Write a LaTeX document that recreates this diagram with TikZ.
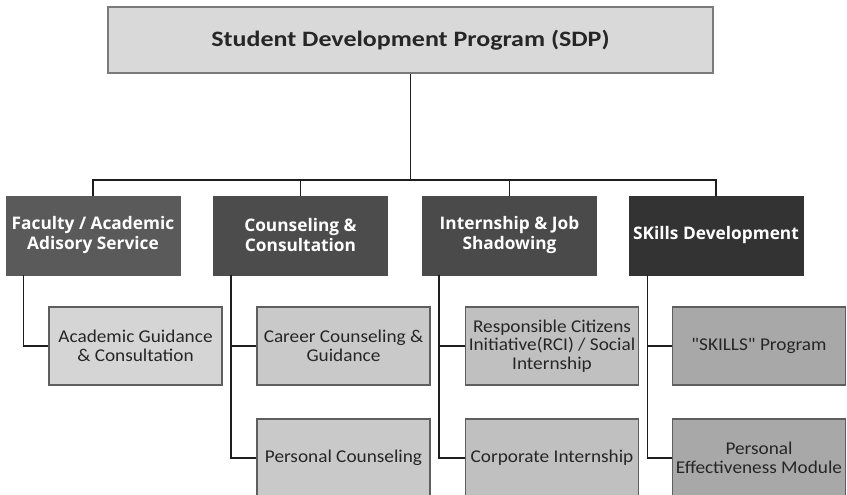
\documentclass[tikz,border=0pt]{standalone}
\usepackage{fontspec}
\setmainfont{Carlito}
\newfontfamily\titlefont[FakeStretch=1.18]{Carlito}
\newfontfamily\subfont[FakeStretch=1.07]{Carlito}
\newfontfamily\headfont{Open Sans}
\definecolor{topfill}{HTML}{D9D9D9}
\definecolor{topdraw}{HTML}{7A7A7A}
\definecolor{lvtwoa}{HTML}{5A5A5A}
\definecolor{lvtwob}{HTML}{4C4C4C}
\definecolor{lvtwoc}{HTML}{4A4A4A}
\definecolor{lvtwod}{HTML}{333333}
\definecolor{lvthreea}{HTML}{D5D5D5}
\definecolor{lvthreeb}{HTML}{C9C9C9}
\definecolor{lvthreec}{HTML}{C0C0C0}
\definecolor{lvthreed}{HTML}{A8A8A8}
\definecolor{linecol}{HTML}{1E1E1E}
\definecolor{boxdraw}{HTML}{5E5E5E}
\tikzset{
  topbox/.style={draw=topdraw, line width=1.2pt, fill=topfill, minimum width=605pt, minimum height=66pt, inner sep=0pt,
    font=\titlefont\fontsize{22}{26}\selectfont\bfseries, text=black!85},
  headbox/.style={draw=#1, line width=0.8pt, fill=#1, minimum width=174pt, minimum height=79pt, inner sep=0pt,
    text=white, align=center, font=\headfont\fontsize{17.3}{20}\selectfont\bfseries},
  subbox/.style={draw=boxdraw, line width=1.2pt, fill=#1, minimum width=173pt, minimum height=78pt, inner sep=0pt,
    text=black!85, align=center, font=\subfont\fontsize{18}{18.5}\selectfont},
  link/.style={draw=linecol, line width=1.5pt}
}
\begin{document}
\begin{tikzpicture}[x=1pt,y=-1pt]
\useasboundingbox (0,0) rectangle (847,495);
\begin{scope}
\clip (0,0) rectangle (847,495);
\node[topbox] (top) at (410.5,40) {Student Development Program (SDP)};

\node[headbox=lvtwoa] (f1) at (93,235.5) {Faculty / Academic\\Adisory Service};
\node[headbox=lvtwob] (f2) at (300.5,235.5) {Counseling \&\\Consultation};
\node[headbox=lvtwoc] (f3) at (509.5,235.5) {Internship \& Job\\Shadowing};
\node[headbox=lvtwod] (f4) at (716,235.5) {SKills Development};

\node[subbox=lvthreea] (a1) at (135.5,346) {Academic Guidance\\\& Consultation};
\node[subbox=lvthreeb] (b1) at (343.5,346) {Career Counseling \&\\Guidance};
\node[subbox=lvthreeb] (b2) at (343.5,458) {Personal Counseling};
\node[subbox=lvthreec] (c1) at (552,346) {Responsible Citizens\\Initiative(RCI) / Social\\Internship};
\node[subbox=lvthreec] (c2) at (552,458) {Corporate Internship};
\node[subbox=lvthreed] (d1) at (759,346) {\char34SKILLS\char34{} Program};
\node[subbox=lvthreed] (d2) at (759,458) {Personal\\Effectiveness Module};

\coordinate (bus) at (0,180);
\draw[link] (top.south) -- (top.south |- bus);
\draw[link] (f1.north) -- (f1.north |- bus) -| (f4.north);
\draw[link] (f2.north) -- (f2.north |- bus);
\draw[link] (f3.north) -- (f3.north |- bus);

\draw[link] ([xshift=18pt]f1.south west) |- (a1.west);
\draw[link] ([xshift=18pt]f2.south west) |- (b1.west);
\draw[link] ([xshift=18pt]f2.south west) |- (b2.west);
\draw[link] ([xshift=17pt]f3.south west) |- (c1.west);
\draw[link] ([xshift=17pt]f3.south west) |- (c2.west);
\draw[link] ([xshift=19pt]f4.south west) |- (d1.west);
\draw[link] ([xshift=19pt]f4.south west) |- (d2.west);
\end{scope}
\end{tikzpicture}
\end{document}
